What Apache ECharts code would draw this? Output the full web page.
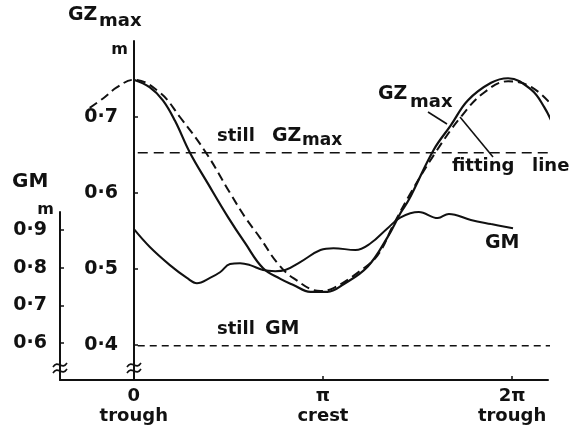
<!DOCTYPE html>
<html><head><meta charset="utf-8">
<script src="https://cdn.jsdelivr.net/npm/echarts@6/dist/echarts.min.js"></script>
<style>html,body{margin:0;padding:0;background:#fff}#c{width:582px;height:429px}</style>
</head><body><div id="c"></div>
<script>
// x values in units of pi (0 = trough, 1 = crest, 2 = trough)
const gzX = [0.000, 0.085, 0.154, 0.218, 0.297, 0.393, 0.499, 0.589, 0.684, 0.775, 0.844, 0.934, 1.024, 1.109, 1.236, 1.342, 1.411, 1.454, 1.586, 1.676, 1.767, 1.889, 1.979, 2.101, 2.170, 2.218];
const gzY = [0.749, 0.739, 0.722, 0.695, 0.653, 0.612, 0.568, 0.534, 0.501, 0.487, 0.479, 0.470, 0.470, 0.480, 0.503, 0.542, 0.574, 0.591, 0.657, 0.689, 0.722, 0.745, 0.751, 0.736, 0.713, 0.689];

const fitX = [-0.233, -0.154, -0.090, 0.000, 0.138, 0.244, 0.382, 0.509, 0.589, 0.668, 0.759, 0.844, 0.987, 1.056, 1.183, 1.289, 1.374, 1.464, 1.597, 1.729, 1.851, 1.979, 2.111, 2.233];
const fitY = [0.712, 0.726, 0.739, 0.749, 0.732, 0.700, 0.653, 0.600, 0.568, 0.541, 0.508, 0.488, 0.471, 0.475, 0.495, 0.518, 0.559, 0.600, 0.654, 0.700, 0.732, 0.747, 0.738, 0.709];

const gmX = [0.000, 0.085, 0.191, 0.281, 0.334, 0.403, 0.456, 0.509, 0.562, 0.615, 0.684, 0.748, 0.801, 0.880, 0.987, 1.056, 1.172, 1.252, 1.342, 1.411, 1.507, 1.607, 1.666, 1.782, 1.889, 2.005];
const gmY = [0.903, 0.855, 0.807, 0.773, 0.759, 0.773, 0.788, 0.810, 0.812, 0.807, 0.794, 0.791, 0.794, 0.815, 0.847, 0.852, 0.847, 0.865, 0.905, 0.934, 0.948, 0.932, 0.943, 0.927, 0.916, 0.905];

const stillGZmax = 0.653;
const stillGM = 0.593;
const stillX = [0.021, 2.223];

const xTicks = [0, 1, 2];
const xTickLabels = ['0\ntrough', 'π\ncrest', '2π\ntrough'];
const gzTicks = [0.4, 0.5, 0.6, 0.7];
const gmTicks = [0.6, 0.7, 0.8, 0.9];

const pairs = (xs, ys) => xs.map((x, i) => [x, ys[i]]);
const ink = '#111';
const FF = '"DejaVu Sans", sans-serif';
const dot = v => v.toFixed(1).replace('.', '·');

function txt(text, x, y, size, align) {
  return { type: 'text', z: 100, style: { text: text, x: x, y: y, font: 'bold ' + size + 'px ' + FF, fill: ink,
    align: align || 'left', verticalAlign: 'middle', textAlign: align || 'left', textVerticalAlign: 'middle' } };
}
function brk(cx, cy) {
  return { type: 'bezierCurve', z: 100, shape: { x1: cx - 7, y1: cy + 2, x2: cx + 7, y2: cy - 2, cpx1: cx - 2, cpy1: cy - 6, cpx2: cx + 2, cpy2: cy + 6 },
    style: { stroke: ink, lineWidth: 1.6, fill: null } };
}
function seg(x1, y1, x2, y2) {
  return { type: 'line', z: 100, shape: { x1: x1, y1: y1, x2: x2, y2: y2 }, style: { stroke: ink, lineWidth: 1.6 } };
}

const chart = echarts.init(document.getElementById('c'), null, { renderer: 'canvas' });
chart.setOption({
  backgroundColor: '#fff',
  animation: false,
  grid: [
    { left: 60, right: 34, top: 41, bottom: 49 },
    { left: 60, right: 34, top: 212, bottom: 49 }
  ],
  xAxis: [
    { type: 'value', gridIndex: 0, min: -0.39, max: 2.19, show: false, axisLine: { onZero: false } },
    { type: 'value', gridIndex: 1, min: -0.39, max: 2.19,
      axisLine: { onZero: false, lineStyle: { color: ink, width: 2 } },
      axisTick: { inside: true, length: 4, lineStyle: { color: ink, width: 1.5 }, customValues: xTicks },
      axisLabel: { customValues: xTicks, margin: 6, color: ink, fontFamily: FF, fontWeight: 'bold', fontSize: 18, lineHeight: 20,
        formatter: v => xTickLabels[xTicks.indexOf(Math.round(v))] || '' },
      splitLine: { show: false } }
  ],
  yAxis: [
    { type: 'value', gridIndex: 0, min: 0.354, max: 0.8, offset: -74,
      axisLine: { onZero: false, lineStyle: { color: ink, width: 2 } },
      axisTick: { inside: true, length: 4, lineStyle: { color: ink, width: 1.5 }, customValues: gzTicks },
      axisLabel: { customValues: gzTicks, margin: 16, color: ink, fontFamily: FF, fontWeight: 'bold', fontSize: 19, formatter: dot },
      splitLine: { show: false } },
    { type: 'value', gridIndex: 1, min: 0.502, max: 0.948,
      axisLine: { onZero: false, lineStyle: { color: ink, width: 2 } },
      axisTick: { inside: true, length: 4, lineStyle: { color: ink, width: 1.5 }, customValues: gmTicks },
      axisLabel: { customValues: gmTicks, margin: 13, color: ink, fontFamily: FF, fontWeight: 'bold', fontSize: 19, formatter: dot },
      splitLine: { show: false } }
  ],
  series: [
    { name: 'GZmax', type: 'line', xAxisIndex: 0, yAxisIndex: 0, data: pairs(gzX, gzY), smooth: 0.4, showSymbol: false, clip: false,
      lineStyle: { color: ink, width: 2.2 } },
    { name: 'fitting line', type: 'line', xAxisIndex: 0, yAxisIndex: 0, data: pairs(fitX, fitY), smooth: 0.4, showSymbol: false, clip: false,
      lineStyle: { color: ink, width: 2, type: [9, 5] } },
    { name: 'still GZmax', type: 'line', xAxisIndex: 0, yAxisIndex: 0, data: stillX.map(x => [x, stillGZmax]), showSymbol: false, clip: false,
      lineStyle: { color: ink, width: 1.6, type: [10, 6] } },
    { name: 'GM', type: 'line', xAxisIndex: 1, yAxisIndex: 1, data: pairs(gmX, gmY), smooth: 0.4, showSymbol: false, clip: false,
      lineStyle: { color: ink, width: 2 } },
    { name: 'still GM', type: 'line', xAxisIndex: 1, yAxisIndex: 1, data: stillX.map(x => [x, stillGM]), showSymbol: false, clip: false,
      lineStyle: { color: ink, width: 1.6, type: [7, 5] } }
  ],
  graphic: [
    txt('GZ', 68, 15, 19), txt('max', 99, 21, 18), txt('m', 128, 50, 16, 'right'),
    txt('GM', 12, 182, 20), txt('m', 54, 210, 16, 'right'),
    txt('still', 217, 136, 18), txt('GZ', 272, 136, 19), txt('max', 302, 141, 17),
    txt('GZ', 378, 94, 19), txt('max', 410, 102, 18),
    txt('fitting', 452, 166, 18), txt('line', 532, 166, 18),
    txt('GM', 485, 243, 19),
    txt('still', 217, 329, 18), txt('GM', 265, 329, 19),
    seg(428, 112, 447, 124), seg(460, 117, 493, 157),
    brk(134, 365), brk(134, 371), brk(60, 365), brk(60, 371)
  ]
});
</script></body></html>
